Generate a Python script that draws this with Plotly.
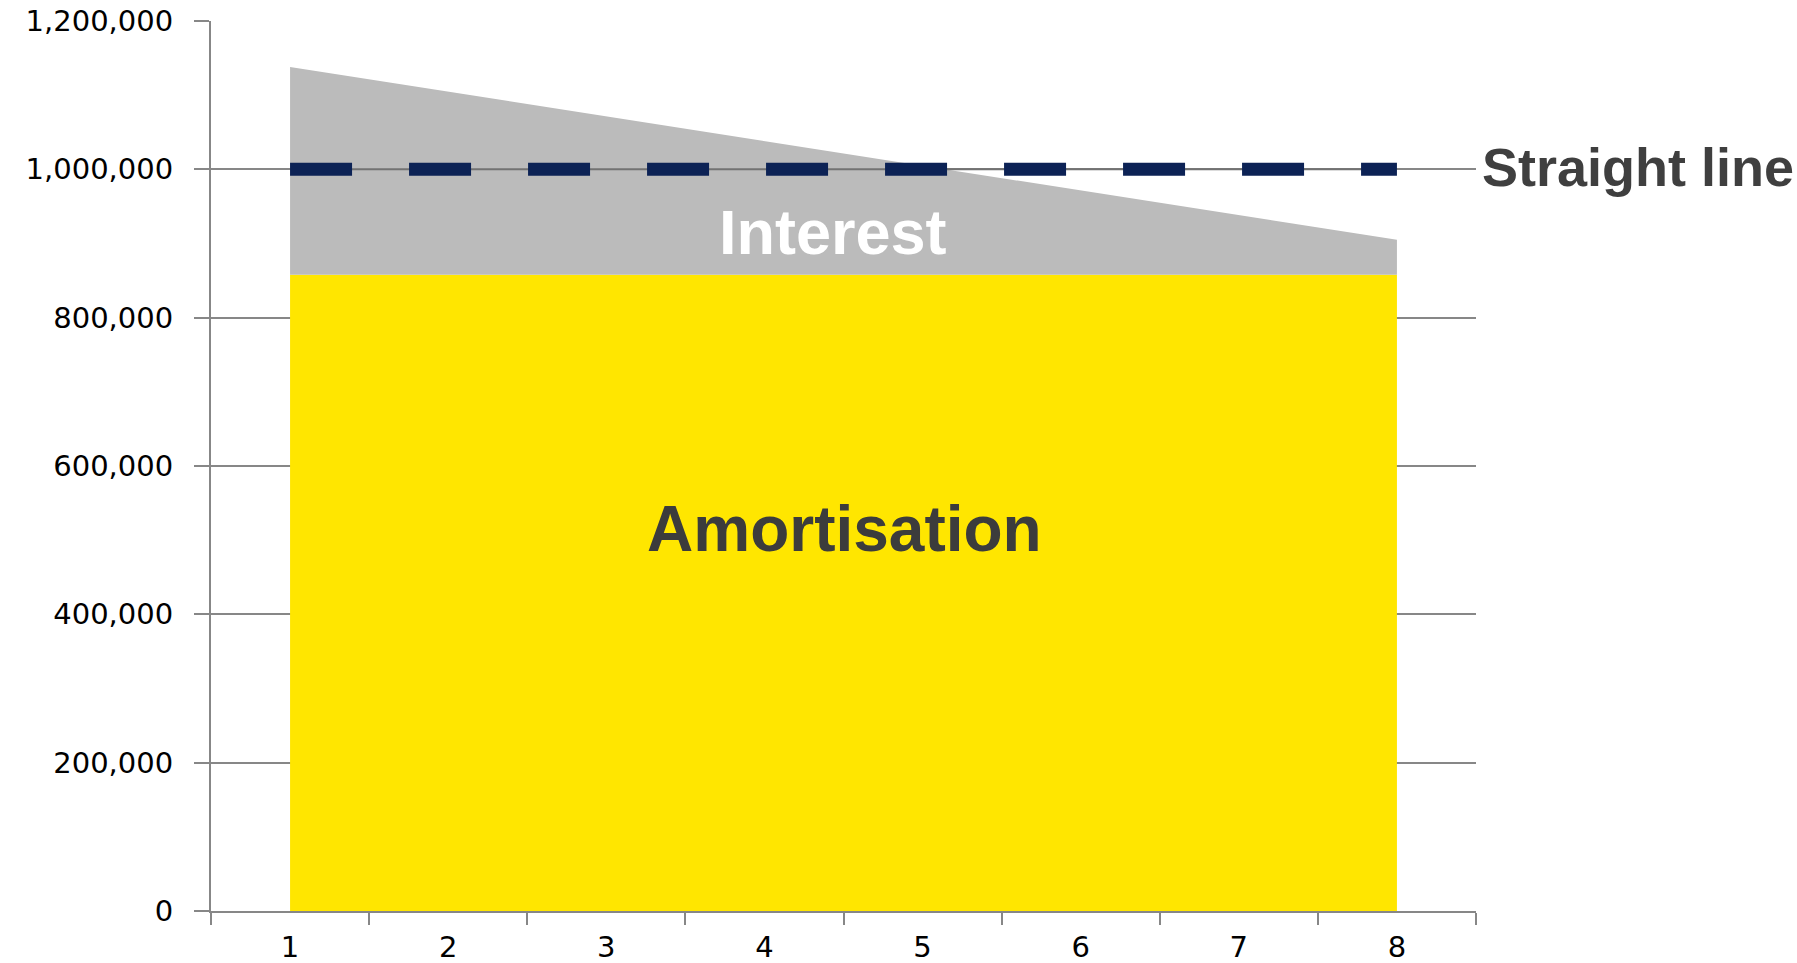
import plotly.graph_objects as go

# ---- data ----
years = ["1", "2", "3", "4", "5", "6", "7", "8"]
amortisation = [858000, 858000, 858000, 858000, 858000, 858000, 858000, 858000]
interest = [280000, 246700, 213400, 180100, 146900, 113600, 80300, 47000]
straight_line = [1000000, 1000000, 1000000, 1000000, 1000000, 1000000, 1000000, 1000000]
y_ticks = [0, 200000, 400000, 600000, 800000, 1000000, 1200000]

YELLOW = "#FFE600"
GREY = "#BBBBBB"
NAVY = "#0C2255"
AXIS = "#878787"

fig = go.Figure()

fig.add_trace(go.Scatter(
    x=years, y=amortisation, stackgroup="one", mode="lines",
    line=dict(width=0, color=YELLOW), fillcolor=YELLOW,
    name="Amortisation", hoverinfo="skip"))
fig.add_trace(go.Scatter(
    x=years, y=interest, stackgroup="one", mode="lines",
    line=dict(width=0, color=GREY), fillcolor=GREY,
    name="Interest", hoverinfo="skip"))
# thin grey guide line under the dashes (gridline visible through the grey area)
fig.add_trace(go.Scatter(
    x=years, y=straight_line, mode="lines",
    line=dict(width=2, color="#727272"), hoverinfo="skip", showlegend=False))
fig.add_trace(go.Scatter(
    x=years, y=straight_line, mode="lines",
    line=dict(width=13, color=NAVY, dash="62px,57px"),
    name="Straight line", hoverinfo="skip"))

tick_font = dict(family="DejaVu Sans, Verdana", size=29, color="#000000")

fig.update_layout(
    width=1797, height=963,
    margin=dict(l=211, r=321, t=21, b=52),
    paper_bgcolor="white", plot_bgcolor="white",
    showlegend=False,
    xaxis=dict(
        type="category", categoryorder="array", categoryarray=years,
        range=[-0.5, 7.5], autorange=False, automargin=False,
        tickson="boundaries", ticks="outside", ticklen=12, tickwidth=2,
        tickcolor=AXIS, showline=True, linecolor=AXIS, linewidth=2,
        showgrid=False, zeroline=False, tickfont=tick_font,
        ticklabelstandoff=9,
    ),
    yaxis=dict(
        range=[0, 1200000], autorange=False, automargin=False,
        tickvals=y_ticks,
        ticktext=[f"{v:,}" for v in y_ticks],
        ticks="outside", ticklen=15, tickwidth=2, tickcolor=AXIS,
        showline=True, linecolor=AXIS, linewidth=2,
        showgrid=True, gridcolor=AXIS, gridwidth=2, zeroline=False,
        tickfont=tick_font, ticklabelstandoff=15,
    ),
    annotations=[
        dict(text="<b>Interest</b>", xref="paper", yref="paper",
             x=0.4917, y=0.763, xanchor="center", yanchor="middle",
             showarrow=False,
             font=dict(family="Liberation Sans, Arial", size=63, color="white")),
        dict(text="<b>Amortisation</b>", xref="paper", yref="paper",
             x=0.501, y=0.429, xanchor="center", yanchor="middle",
             showarrow=False,
             font=dict(family="Liberation Sans, Arial", size=64, color="#3C3C3C")),
        dict(text="<b>Straight line</b>", xref="paper", yref="paper",
             x=1.003, y=0.836, xanchor="left", yanchor="middle",
             showarrow=False,
             font=dict(family="Liberation Sans, Arial", size=54, color="#3F3F3F")),
    ],
)

fig.write_html("out.html")
